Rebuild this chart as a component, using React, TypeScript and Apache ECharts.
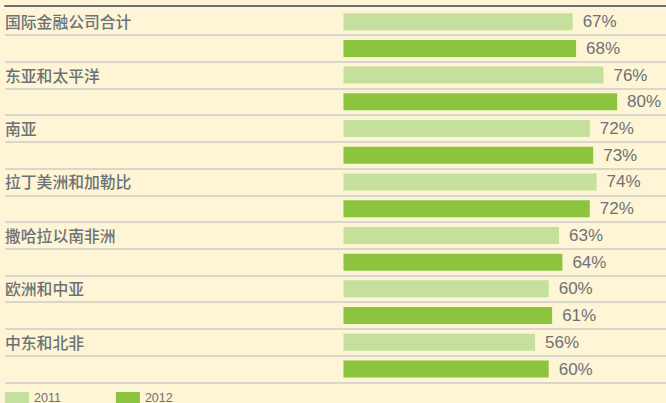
import React, { useEffect, useRef } from "react";
import * as echarts from "echarts";

const regions = [
  "国际金融公司合计",
  "东亚和太平洋",
  "南亚",
  "拉丁美洲和加勒比",
  "撒哈拉以南非洲",
  "欧洲和中亚",
  "中东和北非",
];
const values2011 = [67, 76, 72, 74, 63, 60, 56];
const values2012 = [68, 80, 73, 72, 64, 61, 60];
const seriesNames = ["2011", "2012"];

const GRAY = "#6d7276";
const LIGHT = "#c5df9d";
const DARK = "#8cc43f";
const BG = "#fdf5d5";
const SEP = "#cccdc9";

export default function App() {
  const ref = useRef<HTMLDivElement>(null);
  useEffect(() => {
    if (!ref.current) return;
    const chart = echarts.init(ref.current, undefined, { renderer: "svg" });
    const rows: string[] = [];
    const d2011: any[] = [];
    const d2012: any[] = [];
    regions.forEach((r, i) => {
      rows.push(r);
      rows.push(r + "#2012");
      d2011.push(values2011[i], "-");
      d2012.push("-", values2012[i]);
    });
    const rowH = 26.72;
    const top = 8.3;
    chart.setOption({
      animation: false,
      backgroundColor: BG,
      grid: [
        { left: 343.5, top: top, width: 321.5, height: rowH * 14 },
        { left: 5, right: 0, top: top + rowH, height: rowH * 13 },
      ],
      xAxis: [
        { type: "value", gridIndex: 0, min: 0, max: 94, show: false },
        {
          type: "value",
          gridIndex: 1,
          position: "top",
          offset: top + rowH - 5.7,
          min: 0,
          max: 1,
          axisLine: { show: true, lineStyle: { color: GRAY, width: 2.2 } },
          axisTick: { show: false },
          axisLabel: { show: false },
          splitLine: { show: false },
        },
      ],
      yAxis: [
        {
          type: "category",
          gridIndex: 0,
          inverse: true,
          data: rows,
          axisLine: { show: false },
          axisTick: { show: false },
          splitLine: { show: false },
          axisLabel: {
            align: "left",
            margin: 338.5,
            color: GRAY,
            fontSize: 15.8,
            fontFamily: "Noto Sans CJK SC",
            fontWeight: 500,
            formatter: (v: string, i: number) => (i % 2 === 0 ? v : ""),
          },
        },
        {
          type: "value",
          gridIndex: 1,
          inverse: true,
          min: 1,
          max: 14,
          interval: 1,
          axisLine: { show: false },
          axisTick: { show: false },
          axisLabel: { show: false },
          splitLine: { show: true, lineStyle: { color: SEP, width: 1.5 } },
        },
      ],
      legend: {
        left: 5,
        top: 391.5,
        padding: 0,
        icon: "rect",
        itemWidth: 24,
        itemHeight: 12,
        itemGap: 55,
        data: seriesNames,
        textStyle: { color: GRAY, fontSize: 12.5, fontFamily: "Liberation Sans" },
      },
      series: [
        {
          name: seriesNames[0],
          type: "bar",
          xAxisIndex: 0,
          yAxisIndex: 0,
          data: d2011,
          barWidth: 17,
          barGap: "-100%",
          itemStyle: { color: LIGHT },
          label: {
            show: true,
            position: "right",
            distance: 10,
            formatter: "{c}%",
            color: GRAY,
            fontSize: 17,
            fontFamily: "Liberation Sans",
          },
        },
        {
          name: seriesNames[1],
          type: "bar",
          xAxisIndex: 0,
          yAxisIndex: 0,
          data: d2012,
          barWidth: 17,
          barGap: "-100%",
          itemStyle: { color: DARK },
          label: {
            show: true,
            position: "right",
            distance: 10,
            formatter: "{c}%",
            color: GRAY,
            fontSize: 17,
            fontFamily: "Liberation Sans",
          },
        },
      ],
    });
    return () => chart.dispose();
  }, []);
  return (
    <div
      ref={ref}
      style={{ position: "fixed", left: 0, top: 0, width: 666, height: 403 }}
    />
  );
}
